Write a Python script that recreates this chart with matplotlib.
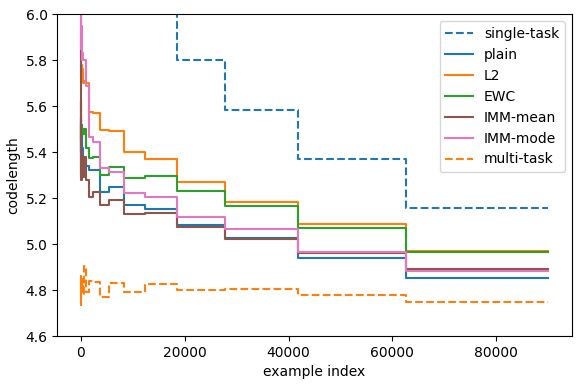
import matplotlib
matplotlib.use("Agg")
import matplotlib.pyplot as plt

# step boundaries (example index), geometric blocks
edges = [0, 64, 95, 143, 215, 322, 483, 724, 1086, 1630, 2444, 3666,
         5499, 8249, 12373, 18560, 27840, 41760, 62640, 90000]

# codelength per block (one value per interval)
single_task = [6.5, 6.5, 6.5, 6.5, 6.5, 6.5, 6.5, 6.5, 6.5, 6.5, 6.5, 6.5,
               6.5, 6.5, 6.5, 5.80, 5.584, 5.370, 5.158]
plain = [5.62, 5.45, 5.40, 5.52, 5.35, 5.42, 5.38, 5.36, 5.34, 5.322, 5.322,
         5.228, 5.250, 5.170, 5.152, 5.083, 5.025, 4.941, 4.854]
l2 = [6.2, 5.78, 5.74, 5.78, 5.72, 5.76, 5.70, 5.71, 5.70, 5.576, 5.572,
      5.495, 5.492, 5.399, 5.370, 5.270, 5.185, 5.086, 4.970]
ewc = [5.62, 5.50, 5.45, 5.52, 5.47, 5.50, 5.48, 5.50, 5.42, 5.375, 5.38,
       5.300, 5.337, 5.289, 5.298, 5.232, 5.166, 5.071, 4.967]
imm_mean = [5.86, 5.30, 5.55, 5.28, 5.40, 5.32, 5.29, 5.38, 5.28, 5.206, 5.228,
            5.170, 5.192, 5.130, 5.134, 5.076, 5.023, 4.960, 4.893]
imm_mode = [6.5, 6.1, 5.85, 5.95, 5.80, 5.83, 5.80, 5.80, 5.69, 5.467, 5.446,
            5.330, 5.315, 5.224, 5.204, 5.119, 5.067, 4.967, 4.885]
multi_task = [4.73, 4.87, 4.76, 4.85, 4.80, 4.83, 4.78, 4.905, 4.79, 4.84, 4.836,
              4.771, 4.830, 4.793, 4.825, 4.800, 4.806, 4.777, 4.749]

fig = plt.figure(figsize=(5.81, 3.86), dpi=100)
ax = fig.add_subplot(111)
fig.subplots_adjust(left=0.0986, right=0.984, top=0.963, bottom=0.1295)

def stair(vals, **kw):
    ax.step(edges, vals + [vals[-1]], where='post', linewidth=1.5, **kw)

stair(single_task, color='C0', linestyle='--', label='single-task')
stair(plain, color='C0', label='plain')
stair(l2, color='C1', label='L2')
stair(ewc, color='C2', label='EWC')
stair(imm_mean, color='C5', label='IMM-mean')
stair(imm_mode, color='C6', label='IMM-mode')
stair(multi_task, color='C1', linestyle='--', label='multi-task')

ax.set_ylim(4.6, 6.0)
ax.set_xticks([0, 20000, 40000, 60000, 80000])
ax.set_yticks([4.6, 4.8, 5.0, 5.2, 5.4, 5.6, 5.8, 6.0])
ax.set_xlabel('example index')
ax.set_ylabel('codelength')
ax.legend(loc='upper right')

fig.savefig('out.png', dpi=100)
